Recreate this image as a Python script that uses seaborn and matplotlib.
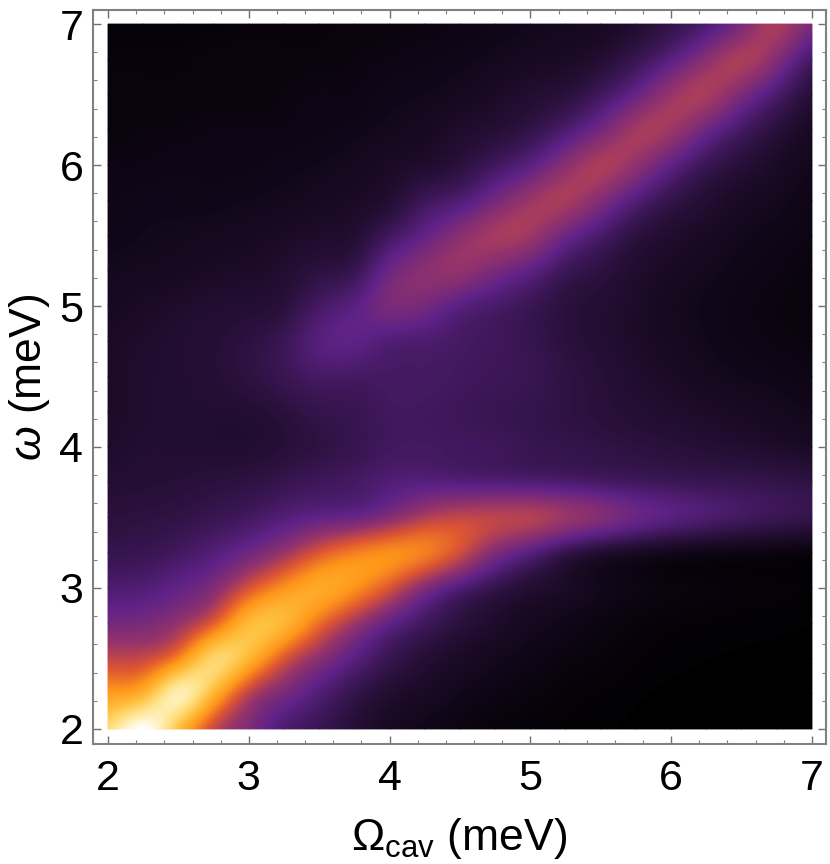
import matplotlib
matplotlib.use('Agg')
import matplotlib.pyplot as plt
from matplotlib.patches import Rectangle
import numpy as np
import seaborn as sns

# Axis grids (meV)
omega_cav = [2.0, 2.25, 2.5, 2.75, 3.0, 3.25, 3.5, 3.75, 4.0, 4.25, 4.5,
             4.75, 5.0, 5.25, 5.5, 5.75, 6.0, 6.25, 6.5, 6.75, 7.0]
omega = [2.0, 2.25, 2.5, 2.75, 3.0, 3.25, 3.5, 3.75, 4.0, 4.25, 4.5,
         4.75, 5.0, 5.25, 5.5, 5.75, 6.0, 6.25, 6.5, 6.75, 7.0]
tick_values = [2, 3, 4, 5, 6, 7]

# Intensity, one line per omega_cav, omega going up
intensity = [
    [.85, .65, .45, .30, .21, .155, .125, .105, .09, .085, .085, .08, .07, .06, .05, .045, .04, .03, .03, .025, .02],
    [1.0, .72, .46, .31, .22, .16, .13, .11, .10, .095, .095, .09, .08, .065, .055, .05, .04, .035, .03, .025, .02],
    [.76, .92, .60, .37, .26, .185, .14, .115, .10, .10, .10, .10, .09, .07, .06, .05, .045, .035, .03, .025, .02],
    [.46, .72, .82, .52, .33, .225, .16, .125, .10, .10, .11, .11, .10, .08, .065, .05, .045, .04, .03, .03, .02],
    [.32, .44, .72, .73, .49, .29, .185, .135, .10, .105, .13, .13, .105, .085, .07, .055, .045, .04, .03, .03, .025],
    [.21, .31, .50, .72, .62, .38, .225, .155, .115, .125, .16, .165, .125, .10, .08, .06, .05, .04, .035, .03, .025],
    [.16, .22, .35, .55, .68, .50, .26, .175, .135, .15, .19, .23, .19, .13, .09, .07, .055, .045, .04, .03, .025],
    [.11, .15, .24, .39, .62, .58, .28, .19, .155, .16, .19, .25, .24, .16, .105, .08, .065, .05, .04, .035, .03],
    [.07, .10, .16, .26, .49, .61, .34, .22, .18, .18, .19, .22, .31, .28, .18, .105, .08, .06, .05, .04, .03],
    [.05, .075, .11, .18, .33, .58, .42, .235, .185, .18, .19, .21, .30, .345, .26, .17, .095, .07, .055, .045, .035],
    [.035, .055, .08, .125, .22, .47, .45, .23, .18, .17, .18, .19, .24, .365, .345, .215, .125, .09, .065, .05, .04],
    [.025, .04, .06, .09, .15, .325, .44, .225, .175, .16, .17, .175, .20, .31, .40, .30, .18, .11, .08, .06, .046],
    [.02, .03, .045, .065, .105, .235, .425, .22, .16, .15, .16, .155, .165, .25, .385, .38, .245, .145, .10, .07, .055],
    [.015, .02, .033, .05, .08, .15, .38, .21, .15, .135, .135, .125, .125, .17, .285, .405, .345, .21, .123, .08, .06],
    [.01, .015, .025, .035, .055, .10, .33, .195, .14, .12, .115, .105, .105, .13, .20, .33, .41, .30, .18, .105, .07],
    [.005, .01, .017, .025, .04, .075, .275, .18, .13, .105, .095, .085, .085, .095, .13, .225, .36, .395, .27, .16, .10],
    [0, .005, .011, .018, .03, .055, .235, .17, .12, .095, .08, .07, .065, .075, .095, .15, .255, .385, .375, .24, .145],
    [0, .004, .008, .015, .025, .045, .205, .16, .11, .085, .065, .055, .052, .06, .075, .105, .165, .285, .405, .345, .21],
    [0, .003, .006, .012, .02, .04, .18, .155, .10, .075, .055, .045, .042, .048, .058, .075, .115, .19, .315, .41, .315],
    [0, .002, .005, .01, .018, .035, .16, .145, .09, .065, .048, .038, .035, .04, .048, .06, .08, .12, .205, .335, .41],
    [0, .002, .004, .008, .015, .03, .145, .135, .08, .055, .042, .033, .03, .032, .038, .045, .055, .075, .115, .19, .315],
]

sns.set_theme(style='white')
plt.rcParams['font.family'] = ['Liberation Sans', 'DejaVu Sans']
plt.rcParams['mathtext.fontset'] = 'custom'
plt.rcParams['mathtext.rm'] = 'Liberation Sans'
plt.rcParams['mathtext.it'] = 'Liberation Sans:italic'

# Sunset style colours
sunset = sns.blend_palette(['#000000', '#2b113e', '#5e2287', '#96346a', '#de5532',
                            '#ff9619', '#ffbe3c', '#ffe48c', '#ffffff'],
                           n_colors=256, as_cmap=True)

W, H = 830, 864
fig = plt.figure(figsize=(W / 100, H / 100), dpi=100)
ax = fig.add_axes([93 / W, 1 - 744 / H, (826 - 93) / W, (744 - 10) / H])

values = np.array(intensity).T
sns.heatmap(values, ax=ax, cmap=sunset, vmin=0, vmax=1, cbar=False,
            shading='gouraud', xticklabels=False, yticklabels=False)

# heatmap works in cell index units, so convert from meV
step = omega_cav[1] - omega_cav[0]


def to_index(v):
    return (np.asarray(v, dtype=float) - omega_cav[0]) / step


# smooth the same table, the original is a density plot
last = len(omega_cav) - 1
img = ax.imshow(values, cmap=sunset, vmin=0, vmax=1, origin='lower', aspect='auto',
                extent=(-0.5, last + 0.5, -0.5, last + 0.5), zorder=2,
                interpolation='spline36', interpolation_stage='data')
img.set_clip_path(Rectangle((0, 0), last, last, transform=ax.transData))

ax.set_xlim(to_index(1.893), to_index(7.1))
ax.set_ylim(to_index(1.893), to_index(7.1))

minor = [t for t in np.arange(2, 7.01, 0.2) if abs(t - round(t)) > 0.01]
for axis in (ax.xaxis, ax.yaxis):
    axis.set_ticks(to_index(tick_values))
    axis.set_ticklabels([str(t) for t in tick_values])
    axis.set_ticks(to_index(minor), minor=True)
ax.tick_params(which='major', direction='in', length=5.5, width=1.0, color='#707070',
               labelsize=31, labelcolor='black', pad=7, bottom=True, left=True,
               top=True, right=True)
ax.tick_params(which='minor', direction='in', length=3, width=0.8, color='#808080',
               bottom=True, left=True, top=True, right=True)
ax.tick_params(axis='x', which='major', labelrotation=0, pad=11)
ax.tick_params(axis='y', labelrotation=0)

for side in ax.spines.values():
    side.set_visible(True)
    side.set_color('#808080')
    side.set_linewidth(1.5)

ax.set_xlabel(r'$\mathrm{\Omega_{cav}}$ (meV)', fontsize=32, labelpad=12, color='black')
ax.set_ylabel(r'$\omega$ (meV)', fontsize=32, labelpad=5, color='black')

plt.savefig('out.png', dpi=100)
